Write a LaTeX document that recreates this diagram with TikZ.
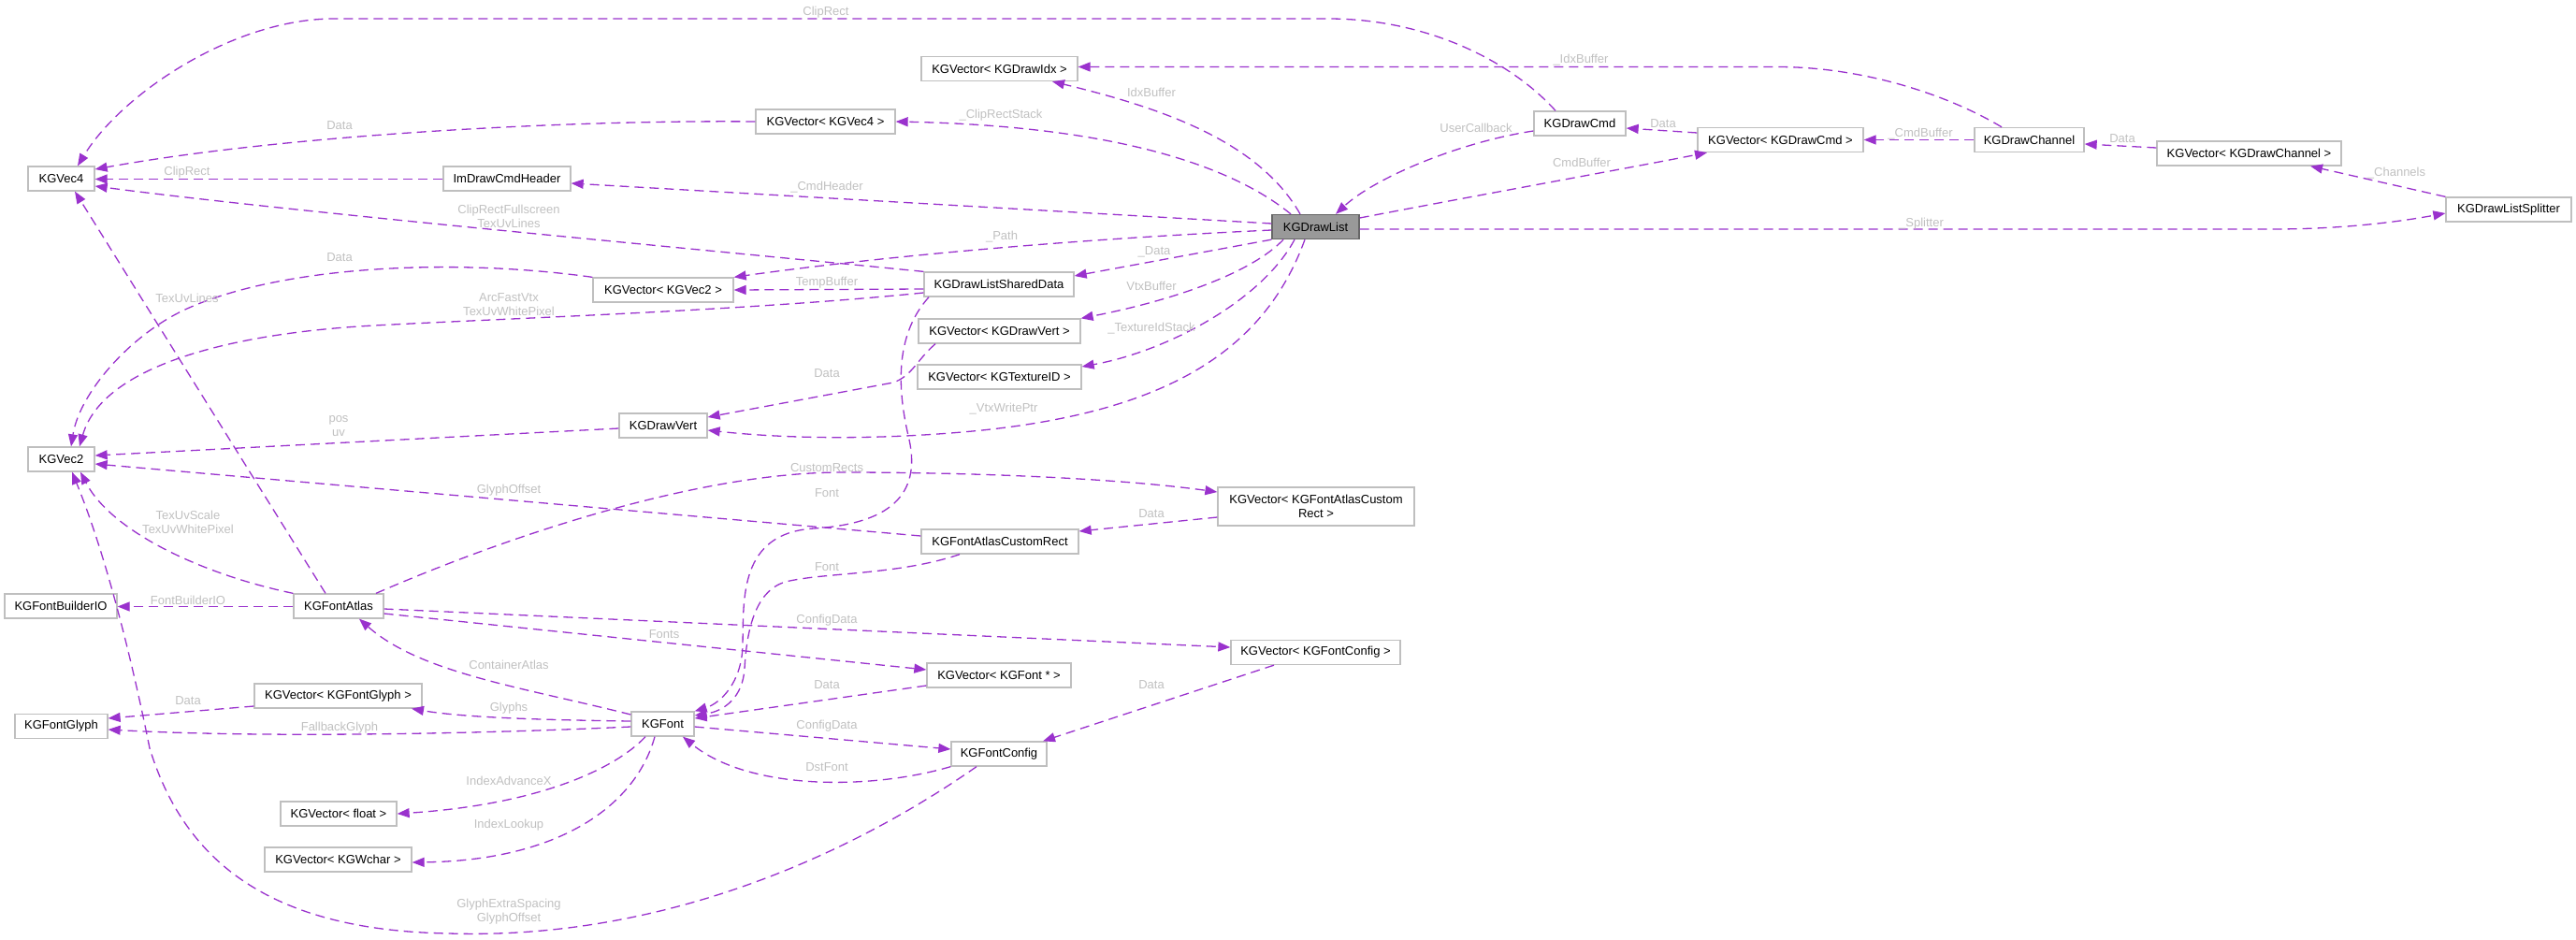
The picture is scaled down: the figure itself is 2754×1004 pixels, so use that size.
\documentclass[tikz,border=0pt]{standalone}
\usepackage{fontspec}
\setmainfont{Liberation Sans}
\usetikzlibrary{arrows.meta}
\definecolor{edgecol}{HTML}{9A32CD}
\definecolor{nodeborder}{HTML}{BFBFBF}
\definecolor{lblcol}{HTML}{C0C0C0}
\definecolor{dlfill}{HTML}{999999}
\definecolor{dlborder}{HTML}{666666}
\tikzset{
 cls/.style={draw=nodeborder, line width=1.3pt, fill=white, font=\fontsize{13}{15}\selectfont, inner sep=0pt, minimum height=26pt, align=center},
 edge/.style={draw=edgecol, line width=1.3pt, dash pattern=on 10pt off 6pt, -{Triangle[length=13pt,width=10pt]}},
 lbl/.style={text=lblcol, font=\fontsize{13}{15}\selectfont, inner sep=0pt, align=center},
}
\begin{document}
\begin{tikzpicture}[x=1pt,y=-1pt]
\useasboundingbox (0,0) rectangle (2754,1004);
% nodes
\node[cls,minimum width=71pt] (vec4) at (65.5,191) {KGVec4};
\node[cls,minimum width=136pt] (imdch) at (542,191) {ImDrawCmdHeader};
\node[cls,minimum width=167pt] (vidx) at (1068.5,73.5) {KGVector< KGDrawIdx >};
\node[cls,minimum width=149pt] (vvec4) at (882.5,130) {KGVector< KGVec4 >};
\node[cls,minimum width=150pt] (vvec2) at (709,310) {KGVector< KGVec2 >};
\node[cls,minimum width=160pt] (dlsd) at (1068,304) {KGDrawListSharedData};
\node[cls,minimum width=93pt,fill=dlfill,draw=dlborder] (dl) at (1406.5,242.5) {KGDrawList};
\node[cls,minimum width=98pt] (dcmd) at (1689,132) {KGDrawCmd};
\node[cls,minimum width=177pt] (vdcmd) at (1903.5,149.5) {KGVector< KGDrawCmd >};
\node[cls,minimum width=117pt] (dch) at (2169.5,149.5) {KGDrawChannel};
\node[cls,minimum width=197pt] (vdch) at (2404.5,164) {KGVector< KGDrawChannel >};
\node[cls,minimum width=134pt] (dls) at (2682,224) {KGDrawListSplitter};
\node[cls,minimum width=71pt] (vec2) at (65.5,491) {KGVec2};
\node[cls,minimum width=120pt] (fbio) at (65,648) {KGFontBuilderIO};
\node[cls,minimum width=96pt] (fa) at (362,648) {KGFontAtlas};
\node[cls,minimum width=173pt] (vdv) at (1068.5,354) {KGVector< KGDrawVert >};
\node[cls,minimum width=175pt] (vtex) at (1068.5,403) {KGVector< KGTextureID >};
\node[cls,minimum width=94pt] (dv) at (709,455) {KGDrawVert};
\node[cls,minimum width=168pt] (facr) at (1069,579) {KGFontAtlasCustomRect};
\node[cls,minimum width=210pt,minimum height=41pt] (vfacr) at (1407,541.5) {KGVector< KGFontAtlasCustom\\Rect >};
\node[cls,minimum width=179pt] (vfg) at (361.5,744) {KGVector< KGFontGlyph >};
\node[cls,minimum width=99pt] (fg) at (65.5,776.5) {KGFontGlyph};
\node[cls,minimum width=124pt] (vfl) at (362,870) {KGVector< float >};
\node[cls,minimum width=157pt] (vwc) at (361.5,919) {KGVector< KGWchar >};
\node[cls,minimum width=67pt] (font) at (708.5,774) {KGFont};
\node[cls,minimum width=154pt] (vfont) at (1068,722) {KGVector< KGFont * >};
\node[cls,minimum width=102pt] (fc) at (1068,806) {KGFontConfig};
\node[cls,minimum width=181pt] (vfc) at (1406.5,697.5) {KGVector< KGFontConfig >};
% edges
\draw[edge] (dcmd.north -| 1663,0) .. controls (1615,65) and (1525,20) .. (1420,20) -- (357,20) .. controls (250,20) and (130,100) .. (vec4.north -| 83,0);
\draw[edge] (dch.north -| 2140,0) .. controls (2080,100) and (1990,71.5) .. (1900,71.5) -- (vidx.east |- 0,71.5);
\draw[edge] (dl.north -| 1390,0) .. controls (1345,150) and (1240,115) .. (vidx.south -| 1125,0);
\draw[edge] (vvec4.west) .. controls (600,128) and (300,145) .. (vec4.east |- 0,181);
\draw[edge] (dl.north -| 1380,0) .. controls (1320,180) and (1200,135) .. (vvec4.east);
\draw[edge] (imdch.west |- 0,191.5) -- (vec4.east |- 0,191.5);
\draw[edge] (dl.west |- 0,239) -- (imdch.east |- 0,196);
\draw[edge] (dlsd.north west) .. controls (700,262) and (300,225) .. (vec4.east |- 0,199);
\draw[edge] (dl.west |- 0,246) .. controls (1100,258) and (900,280) .. (vvec2.north east);
\draw[edge] (dlsd.west |- 0,309) -- (vvec2.east |- 0,310);
\draw[edge] (vvec2.north west) .. controls (480,275) and (300,285) .. (200,330) .. controls (140,357) and (85,420) .. (vec2.north -| 76,0);
\draw[edge] (dlsd.west |- 0,313) .. controls (800,332) and (550,340) .. (400,348) .. controls (250,356) and (110,390) .. (vec2.north -| 85,0);
\draw[edge] (fa.north -| 348,0) -- (vec4.south -| 80,0);
\draw[edge] (dv.west |- 0,458) -- (vec2.east |- 0,487);
\draw[edge] (facr.west |- 0,573) -- (vec2.east |- 0,496);
\draw[edge] (fa.north west) .. controls (220,615) and (120,570) .. (vec2.south -| 86,0);
\draw[edge] (fc.south -| 1044,0) .. controls (900,920) and (700,1005) .. (480,998) .. controls (300,995) and (200,930) .. (160,800) .. controls (140,700) and (112,590) .. (vec2.south -| 77,0);
\draw[edge] (fa.west |- 0,648.5) -- (fbio.east |- 0,648.5);
\draw[edge] (fa.north east -| 402,0) .. controls (550,570) and (750,505) .. (900,505) .. controls (1050,505) and (1200,512) .. (vfacr.west |- 0,526);
\draw[edge] (vfacr.west |- 0,553) -- (facr.east |- 0,568);
\draw[edge] (dlsd.south -| 993,0) .. controls (955,360) and (960,420) .. (972,470) .. controls (985,530) and (950,560) .. (870,565) .. controls (790,570) and (795,640) .. (794,690) .. controls (793,730) and (770,752) .. (font.north east);
\draw[edge] (facr.south -| 1026,0) .. controls (960,615) and (880,612) .. (840,622) .. controls (805,632) and (798,680) .. (796,715) .. controls (794,745) and (775,760) .. (font.east |- 0,765);
\draw[edge] (vdv.south -| 1000,0) .. controls (980,385) and (975,402) .. (955,409) -- (dv.east |- 0,446);
\draw[edge] (dl.south -| 1372,0) .. controls (1340,290) and (1260,320) .. (vdv.north east);
\draw[edge] (dl.south west) -- (dlsd.east |- 0,295);
\draw[edge] (dl.south -| 1384,0) .. controls (1350,320) and (1250,375) .. (vtex.east |- 0,392);
\draw[edge] (dl.south -| 1395,0) .. controls (1350,380) and (1240,440) .. (1050,460) .. controls (950,470) and (850,470) .. (dv.east |- 0,460);
\draw[edge] (dcmd.west |- 0,140) .. controls (1560,152) and (1470,190) .. (dl.north -| 1428,0);
\draw[edge] (vdcmd.west |- 0,142) -- (dcmd.east |- 0,137);
\draw[edge] (dl.east |- 0,233) .. controls (1600,205) and (1750,178) .. (vdcmd.south -| 1825,0);
\draw[edge] (dch.west) -- (vdcmd.east);
\draw[edge] (vdch.west |- 0,158) -- (dch.east |- 0,154);
\draw[edge] (dls.north west) -- (vdch.south -| 2470,0);
\draw[edge] (dl.east |- 0,245) -- (2430,245) .. controls (2500,245) and (2560,238) .. (dls.west |- 0,228);
\draw[edge] (fa.east |- 0,651) -- (vfc.west |- 0,692);
\draw[edge] (fa.east |- 0,656) -- (vfont.west |- 0,716);
\draw[edge] (font.west |- 0,764) .. controls (560,735) and (450,720) .. (fa.south -| 384,0);
\draw[edge] (vfont.west |- 0,733) -- (font.east |- 0,768);
\draw[edge] (font.west |- 0,771) .. controls (600,770) and (500,768) .. (vfg.south -| 440,0);
\draw[edge] (vfg.west |- 0,755) -- (fg.east |- 0,768);
\draw[edge] (font.west |- 0,777) .. controls (550,783) and (300,790) .. (fg.east |- 0,780);
\draw[edge] (font.south -| 690,0) .. controls (660,820) and (580,860) .. (vfl.east |- 0,870);
\draw[edge] (font.south -| 700,0) .. controls (680,860) and (600,920) .. (vwc.east |- 0,922);
\draw[edge] (font.east |- 0,777) -- (fc.west |- 0,801);
\draw[edge] (fc.south west) .. controls (930,845) and (800,845) .. (font.south -| 730,0);
\draw[edge] (vfc.south -| 1362,0) -- (fc.north east -| 1115,0);
% labels
\node[lbl] (l1) at (883,13) {ClipRect};
\node[lbl] (l2) at (1690,64) {\_IdxBuffer};
\node[lbl] (l3) at (1231,99) {IdxBuffer};
\node[lbl] (l4) at (363,134) {Data};
\node[lbl] (l5) at (1070,123) {\_ClipRectStack};
\node[lbl] (l6) at (200,184) {ClipRect};
\node[lbl] (l7) at (884,200) {\_CmdHeader};
\node[lbl] (l8) at (544,231.5) {ClipRectFullscreen\\TexUvLines};
\node[lbl] (l9) at (1071,253) {\_Path};
\node[lbl] (l10) at (884,302) {TempBuffer};
\node[lbl] (l11) at (1234,269) {\_Data};
\node[lbl] (l12) at (1231,306) {VtxBuffer};
\node[lbl] (l13) at (363,275) {Data};
\node[lbl] (l14) at (544,326) {ArcFastVtx\\TexUvWhitePixel};
\node[lbl] (l15) at (200,319) {TexUvLines};
\node[lbl] (l16) at (1231,351) {\_TextureIdStack};
\node[lbl] (l17) at (884,399) {Data};
\node[lbl] (l18) at (1073,437) {\_VtxWritePtr};
\node[lbl] (l19) at (362,455.5) {pos\\uv};
\node[lbl] (l20) at (884,500) {CustomRects};
\node[lbl] (l21) at (884,527) {Font};
\node[lbl] (l22) at (544,524) {GlyphOffset};
\node[lbl] (l23) at (1231,549) {Data};
\node[lbl] (l24) at (201,558.5) {TexUvScale\\TexUvWhitePixel};
\node[lbl] (l25) at (884,606) {Font};
\node[lbl] (l26) at (201,642) {FontBuilderIO};
\node[lbl] (l27) at (884,663) {ConfigData};
\node[lbl] (l28) at (710,678) {Fonts};
\node[lbl] (l29) at (544,711) {ContainerAtlas};
\node[lbl] (l30) at (884,732) {Data};
\node[lbl] (l31) at (1231,732) {Data};
\node[lbl] (l32) at (201,749) {Data};
\node[lbl] (l33) at (544,757) {Glyphs};
\node[lbl] (l34) at (884,776) {ConfigData};
\node[lbl] (l35) at (363,778) {FallbackGlyph};
\node[lbl] (l36) at (884,820) {DstFont};
\node[lbl] (l37) at (544,835) {IndexAdvanceX};
\node[lbl] (l38) at (544,882) {IndexLookup};
\node[lbl] (l39) at (544,974.5) {GlyphExtraSpacing\\GlyphOffset};
\node[lbl] (l40) at (1578,137) {UserCallback};
\node[lbl] (l41) at (1778,132) {Data};
\node[lbl] (l42) at (1691,174) {CmdBuffer};
\node[lbl] (l43) at (2053,143) {\_CmdBuffer};
\node[lbl] (l44) at (2269,148) {Data};
\node[lbl] (l45) at (2562,185) {\_Channels};
\node[lbl] (l46) at (2054,239) {\_Splitter};
\end{tikzpicture}
\end{document}
